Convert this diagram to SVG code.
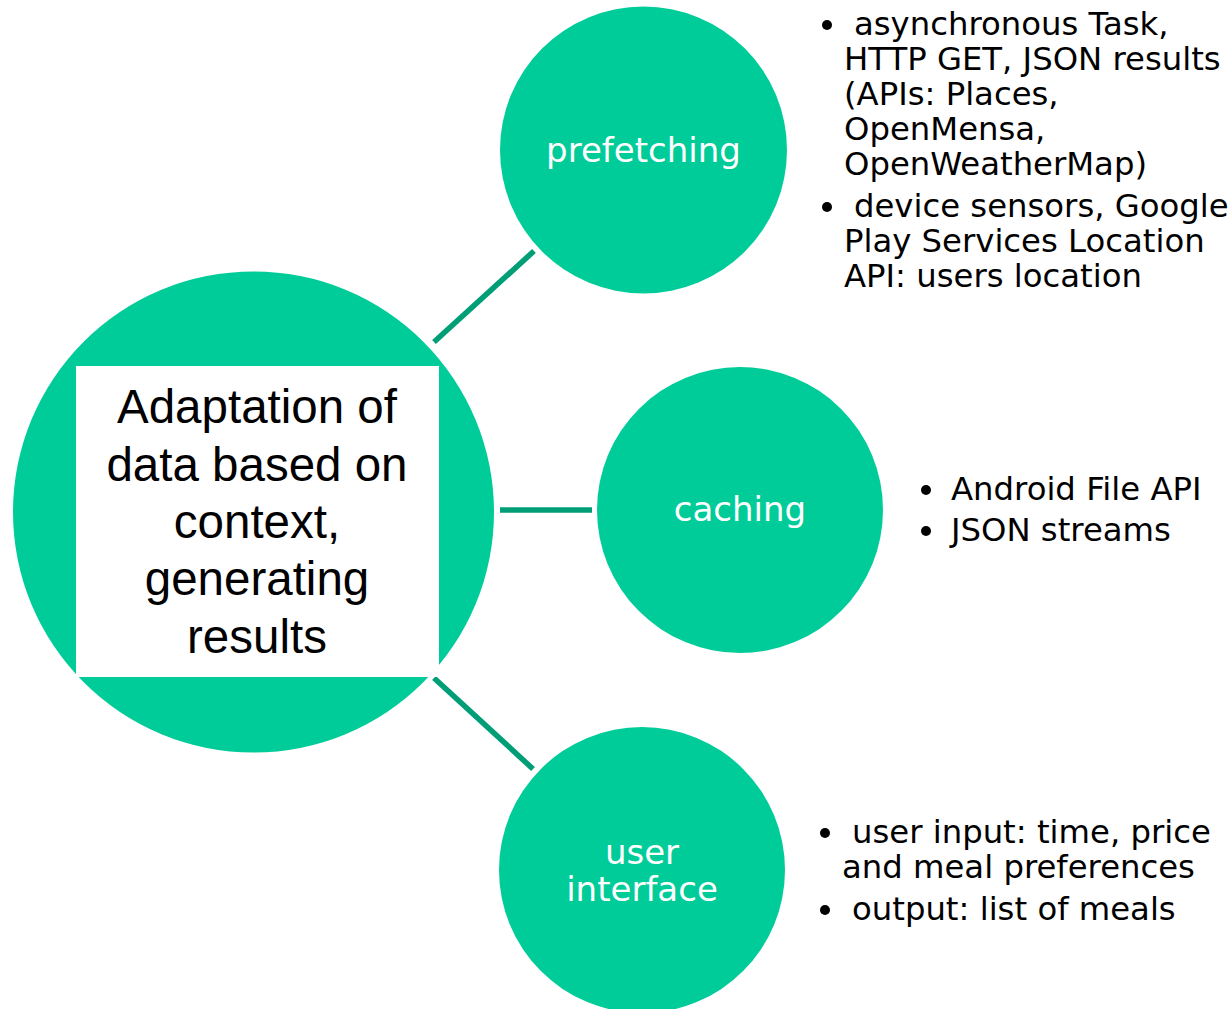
<svg xmlns="http://www.w3.org/2000/svg" width="1230" height="1009" viewBox="0 0 1230 1009">
  <style>
    .bubble { fill: #00CC99; }
    .link { stroke: #009E77; stroke-width: 5.5; fill: none; }
    .label { font-family: "DejaVu Sans", Verdana, sans-serif; font-size: 34px; fill: #FFFFFF; text-anchor: middle; }
    .main { font-family: "Liberation Sans", Arial, sans-serif; font-size: 47.5px; fill: #000000; text-anchor: middle; }
    .note { font-family: "DejaVu Sans", Verdana, sans-serif; font-size: 32.3px; fill: #000000; }
    .dot { fill: #000000; }
  </style>
  <rect width="1230" height="1009" fill="#FFFFFF"/>

  <!-- connectors from the hub to each branch -->
  <g id="connectors">
    <line class="link" x1="434" y1="342" x2="534" y2="251"/>
    <line class="link" x1="500" y1="510" x2="592" y2="510"/>
    <line class="link" x1="434" y1="678" x2="533" y2="769"/>
  </g>

  <!-- hub -->
  <g id="hub">
    <circle class="bubble" cx="253.5" cy="512" r="240.5"/>
    <rect x="76" y="366" width="363" height="311" fill="#FFFFFF"/>
    <text class="main" x="257" y="423">Adaptation of</text>
    <text class="main" x="257" y="481">data based on</text>
    <text class="main" x="257" y="538">context,</text>
    <text class="main" x="257" y="595">generating</text>
    <text class="main" x="257" y="653">results</text>
  </g>

  <!-- prefetching branch -->
  <g id="prefetching">
    <circle class="bubble" cx="643.5" cy="150" r="143.5"/>
    <text class="label" x="643.5" y="162">prefetching</text>
  </g>
  <g id="prefetching-notes">
    <circle class="dot" cx="827" cy="25" r="5"/>
    <text class="note" x="854" y="35">asynchronous Task,</text>
    <text class="note" x="844" y="70">HTTP GET, JSON results</text>
    <text class="note" x="844" y="105">(APIs: Places,</text>
    <text class="note" x="844" y="140">OpenMensa,</text>
    <text class="note" x="844" y="175">OpenWeatherMap)</text>
    <circle class="dot" cx="827" cy="207" r="5"/>
    <text class="note" x="854" y="217">device sensors, Google</text>
    <text class="note" x="844" y="252">Play Services Location</text>
    <text class="note" x="844" y="287">API: users location</text>
  </g>

  <!-- caching branch -->
  <g id="caching">
    <circle class="bubble" cx="740" cy="510" r="143"/>
    <text class="label" x="740" y="521">caching</text>
  </g>
  <g id="caching-notes">
    <circle class="dot" cx="926" cy="490" r="5"/>
    <text class="note" x="951" y="500">Android File API</text>
    <circle class="dot" cx="926" cy="531" r="5"/>
    <text class="note" x="951" y="541">JSON streams</text>
  </g>

  <!-- user interface branch -->
  <g id="user-interface">
    <circle class="bubble" cx="642" cy="870" r="143"/>
    <text class="label" x="642" y="864">user</text>
    <text class="label" x="642" y="901">interface</text>
  </g>
  <g id="user-interface-notes">
    <circle class="dot" cx="825" cy="833" r="5"/>
    <text class="note" x="852" y="843">user input: time, price</text>
    <text class="note" x="842" y="878">and meal preferences</text>
    <circle class="dot" cx="825" cy="910" r="5"/>
    <text class="note" x="852" y="920">output: list of meals</text>
  </g>
</svg>
